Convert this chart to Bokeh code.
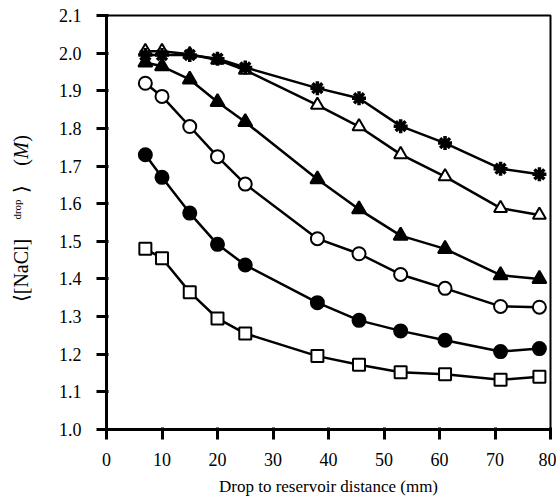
from bokeh.plotting import figure
from bokeh.layouts import row
from bokeh.models import FixedTicker, PrintfTickFormatter, Label, Range1d
from bokeh.embed import file_html
from bokeh.resources import INLINE

# ---- data ----
distance = [7, 10, 15, 20, 25, 38, 45.5, 53, 61, 71, 78]
series_square = [1.48, 1.455, 1.365, 1.295, 1.255, 1.195, 1.172, 1.152, 1.147, 1.132, 1.14]
series_filled_circle = [1.73, 1.67, 1.575, 1.492, 1.437, 1.337, 1.29, 1.262, 1.237, 1.207, 1.215]
series_open_circle = [1.92, 1.885, 1.805, 1.725, 1.652, 1.507, 1.467, 1.412, 1.375, 1.327, 1.325]
series_filled_triangle = [1.975, 1.965, 1.93, 1.87, 1.817, 1.665, 1.585, 1.515, 1.48, 1.41, 1.40]
series_open_triangle = [2.005, 2.005, 1.997, 1.982, 1.955, 1.862, 1.805, 1.731, 1.672, 1.588, 1.57]
series_asterisk = [1.995, 1.995, 1.995, 1.985, 1.962, 1.907, 1.88, 1.806, 1.761, 1.693, 1.678]

x_ticks = [0, 10, 20, 30, 40, 50, 60, 70, 80]
y_ticks = [1.0, 1.1, 1.2, 1.3, 1.4, 1.5, 1.6, 1.7, 1.8, 1.9, 2.0, 2.1]

FONT = "Liberation Serif"

H = 502
SIDE_W = 45
W = 556 - SIDE_W
LEFT, TOP, RIGHT, BOTTOM = 106 - SIDE_W, 15, 6, 73
FRAME_TOP, FRAME_BOTTOM = TOP, H - BOTTOM

p = figure(width=W, height=H, output_backend="svg", toolbar_location=None,
           x_range=Range1d(0, 80), y_range=Range1d(1.0, 2.1),
           min_border_left=LEFT, min_border_right=RIGHT, min_border_top=TOP,
           min_border_bottom=BOTTOM)
p.background_fill_color = "white"
p.border_fill_color = "white"
p.grid.visible = False
p.outline_line_color = "black"
p.outline_line_width = 2

p.xaxis.ticker = FixedTicker(ticks=x_ticks)
p.yaxis.ticker = FixedTicker(ticks=y_ticks)
p.yaxis.formatter = PrintfTickFormatter(format="%.1f")
for ax in (p.xaxis[0], p.yaxis[0]):
    ax.axis_line_width = 3
    ax.axis_line_color = "black"
    ax.major_tick_line_width = 3
    ax.major_tick_out = 10
    ax.major_tick_in = 2
    ax.minor_tick_line_color = None
    ax.major_label_text_font = FONT
    ax.major_label_text_font_size = "18px"
    ax.major_label_text_color = "black"
p.yaxis.major_label_standoff = 15
p.xaxis.major_label_standoff = 13
p.xaxis.axis_label = "Drop to reservoir distance (mm)"
p.xaxis.axis_label_text_font = FONT
p.xaxis.axis_label_text_font_style = "normal"
p.xaxis.axis_label_text_font_size = "17px"
p.xaxis.axis_label_text_color = "black"
p.xaxis.axis_label_standoff = 8

LW = 2.5
specs = [
    (series_square, "square", "white", 12),
    (series_filled_circle, "circle", "black", 13),
    (series_open_circle, "circle", "white", 13),
    (series_filled_triangle, "triangle", "black", 14),
    (series_open_triangle, "triangle", "white", 13),
    (series_asterisk, "asterisk", "black", 14),
]
for ys, marker, fill, size in specs:
    p.line(distance, ys, line_color="black", line_width=LW)
for ys, marker, fill, size in specs:
    p.scatter(distance, ys, marker=marker, size=size, fill_color=fill,
              line_color="black", line_width=3.5 if marker == "asterisk" else 2)

# side panel holding the composite y-axis title; its frame is aligned with the
# main frame, so its y range is expressed directly in page pixels (top-down)
side = figure(width=SIDE_W, height=H, output_backend="svg", toolbar_location=None,
              x_range=Range1d(0, SIDE_W), y_range=Range1d(FRAME_BOTTOM, FRAME_TOP),
              min_border=0, x_axis_type=None, y_axis_type=None)
side.outline_line_color = None
side.grid.visible = False
side.background_fill_color = "white"
side.border_fill_color = "white"

def lab(text, px, py, size, style="normal"):
    side.add_layout(Label(x=px, y=py, text=text, angle=90, angle_units="deg",
                          text_font=FONT, text_font_size=size, text_font_style=style,
                          text_color="black", text_align="center", text_baseline="middle"))

lab("\u27e8[NaCl]", 20, 270, "20px")
lab("drop", 16, 209, "11px")
lab("\u27e9", 20, 188, "20px")
lab("(", 20, 162, "20px")
lab("M", 20, 150, "20px", "italic")
lab(")", 20, 138, "20px")

layout = row(side, p, spacing=0)
open("out.html", "w").write(file_html(layout, INLINE))
